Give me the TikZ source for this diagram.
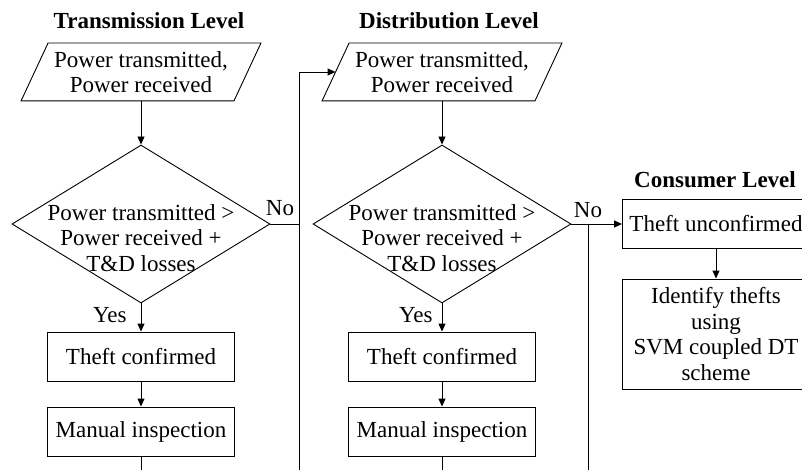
\documentclass[tikz,border=0pt]{standalone}
\usepackage{fontspec}
\setmainfont{Liberation Serif}
\usetikzlibrary{shapes.geometric,arrows.meta,calc}
% parallelogram drawn around an (invisible) rectangular io node
\newcommand{\iooutline}[1]{%
  \draw ($(#1.south west)+(-13.5,0)$) -- ($(#1.north west)+(13.5,0)$)
     -- ($(#1.north east)+(13.5,0)$) -- ($(#1.south east)+(-13.5,0)$) -- cycle;}
\begin{document}
\begin{tikzpicture}[x=1pt,y=-1pt,
  font=\fontsize{23}{25.5}\selectfont,
  line width=0.9pt,
  flow/.style={-{Triangle[length=8pt,width=7pt]}},
  procbox/.style={draw, rectangle, minimum width=187pt, minimum height=49pt,
    inner sep=0pt, align=center},
  iobox/.style={rectangle, minimum width=212pt, minimum height=57pt,
    inner sep=0pt, align=center},
  decision/.style={draw, diamond, minimum width=258pt, minimum height=158pt,
    inner sep=0pt},
  decisiontext/.style={align=center, inner sep=0pt},
  leveltitle/.style={font=\fontsize{23}{25.5}\selectfont\bfseries,
    anchor=base, inner sep=0pt},
  tag/.style={inner sep=0pt},
]
\useasboundingbox (0,0) rectangle (802,470);
\clip (0,0) rectangle (802,470);

% column titles
\node[leveltitle] (t1) at (149,29) {Transmission Level};
\node[leveltitle] (t2) at (449,29) {Distribution Level};
\node[leveltitle] (t3) at (715,188) {Consumer Level};

% transmission level
\node[iobox] (p1) at (141,72) {Power transmitted,\\Power received};
\iooutline{p1}
\node[decision] (d1) at (141,224) {};
\node[decisiontext] (d1t) at (141,238) {Power transmitted >\\Power received +\\T\&D losses};
\node[procbox] (c1) at (141,356.5) {Theft confirmed};
\node[procbox] (m1) at (141,431.5) {Manual inspection};

% distribution level
\node[iobox] (p2) at (442,72) {Power transmitted,\\Power received};
\iooutline{p2}
\node[decision] (d2) at (442,224) {};
\node[decisiontext] (d2t) at (442,238) {Power transmitted >\\Power received +\\T\&D losses};
\node[procbox] (c2) at (442,356.5) {Theft confirmed};
\node[procbox] (m2) at (442,431.5) {Manual inspection};

% consumer level
\node[procbox] (u) at (716,224) {Theft unconfirmed};
\node[procbox, minimum height=110pt] (s) at (716,334)
  {Identify thefts\\using\\SVM coupled DT\\scheme};

% routing points
\coordinate (j1) at (299,224);
\coordinate (b1) at (299,480);
\coordinate (j2) at (588,224);
\coordinate (b2) at (588,480);
\coordinate (e1) at (141,480);
\coordinate (e2) at (442,480);

% connectors
\draw[flow] (p1.south) -- (d1.north);
\draw[flow] (d1.south) -- (c1.north);
\draw[flow] (c1.south) -- (m1.north);
\draw (m1.south) -- (e1);
\draw (d1.east) -- (j1);
\draw[flow] (b1) |- (p2.west);

\draw[flow] (p2.south) -- (d2.north);
\draw[flow] (d2.south) -- (c2.north);
\draw[flow] (c2.south) -- (m2.north);
\draw (m2.south) -- (e2);
\draw[flow] (d2.east) -- (u.west);
\draw (b2) -- (j2);
\draw[flow] (u.south) -- (s.north);

% branch labels
\node[tag, anchor=base west] (no1) at ($(d1.east)+(-5,-8)$) {No};
\node[tag, anchor=base west] (no2) at ($(d2.east)+(2,-6)$) {No};
\node[tag, anchor=base east] (yes1) at ($(d1.south)+(-14,19)$) {Yes};
\node[tag, anchor=base east] (yes2) at ($(d2.south)+(-9,19)$) {Yes};
\end{tikzpicture}
\end{document}
